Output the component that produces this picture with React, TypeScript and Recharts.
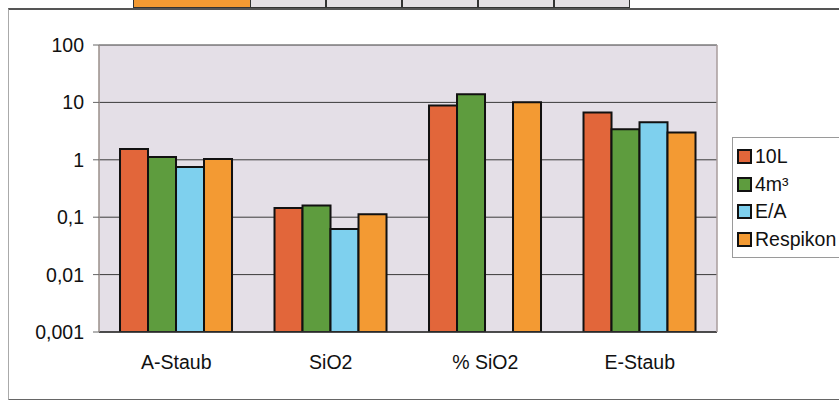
import React from "react";
import { BarChart, Bar, XAxis, YAxis, CartesianGrid } from "recharts";

// Log-scale comparison of four samplers across four measurements.
const categories = ["A-Staub", "SiO2", "% SiO2", "E-Staub"];
const series10L = [1.55, 0.145, 8.8, 6.7];
const series4m3 = [1.12, 0.16, 13.8, 3.4];
const seriesEA: (number | null)[] = [0.75, 0.062, null, 4.5];
const seriesRespikon = [1.03, 0.113, 10.1, 3.0];
const yTicks = [0.001, 0.01, 0.1, 1, 10, 100];

const SERIES = [
  { key: "l10", name: "10L", color: "#e2663a" },
  { key: "m4", name: "4m³", color: "#5e9c3e" },
  { key: "ea", name: "E/A", color: "#7ed0ee" },
  { key: "resp", name: "Respikon", color: "#f39a33" },
];

const FONT = '"Liberation Sans", Arial, sans-serif';
const FONT_SIZE = 19.5;

const data = categories.map((name, i) => ({
  name,
  l10: series10L[i],
  m4: series4m3[i],
  ea: seriesEA[i],
  resp: seriesRespikon[i],
}));

function formatTick(v: number) {
  return String(v).replace(".", ",");
}

function LegendBox() {
  return (
    <div
      style={{
        position: "absolute",
        left: 732,
        top: 137,
        width: 110,
        border: "1px solid #9a9a9a",
        borderRight: "none",
        background: "#fff",
        padding: "5px 0 4px 4px",
        fontFamily: FONT,
        fontSize: FONT_SIZE,
        color: "#111",
      }}
    >
      {SERIES.map((s) => (
        <div
          key={s.key}
          style={{ display: "flex", alignItems: "center", height: 27.5 }}
        >
          <span
            style={{
              display: "inline-block",
              width: 11,
              height: 11,
              background: s.color,
              border: "2px solid #111",
              marginRight: 3,
            }}
          />
          <span>{s.name}</span>
        </div>
      ))}
    </div>
  );
}

export default function App() {
  return (
    <div
      style={{
        position: "absolute",
        left: 0,
        top: 0,
        width: 839,
        height: 400,
        background: "#fff",
        overflow: "hidden",
      }}
    >
      {/* remnant of the table above the chart in the scan */}
      <div
        style={{
          position: "absolute",
          left: 133,
          top: -4,
          width: 117,
          height: 10,
          background: "#f39a33",
          border: "1px solid #333",
        }}
      />
      {[250, 326, 402, 478, 554, 630].map((x, i, arr) =>
        i < arr.length - 1 ? (
          <div
            key={x}
            style={{
              position: "absolute",
              left: x,
              top: -4,
              width: arr[i + 1] - x - 2,
              height: 10,
              background: "#e4e0e4",
              border: "1px solid #333",
            }}
          />
        ) : null
      )}
      {/* chart area frame */}
      <div
        style={{
          position: "absolute",
          left: 8,
          top: 8,
          width: 840,
          height: 389,
          borderLeft: "1px solid #aaa",
          borderTop: "2px solid #555",
          borderBottom: "2px solid #666",
        }}
      />
      <div style={{ position: "absolute", left: 0, top: 0 }}>
        <BarChart
          width={839}
          height={400}
          data={data}
          margin={{ top: 45, right: 121, bottom: 0, left: 39 }}
          barCategoryGap="13.6%"
          barGap={0}
        >
          <CartesianGrid
            vertical={false}
            stroke="#3a3a3a"
            strokeWidth={1}
            fill="#e4dfe7"
          />
          <XAxis
            dataKey="name"
            height={68}
            tickLine={false}
            tickSize={0}
            tickMargin={23}
            axisLine={{ stroke: "#333", strokeWidth: 1.5 }}
            tick={{ fill: "#111", fontSize: FONT_SIZE, fontFamily: FONT }}
          />
          <YAxis
            scale="log"
            domain={[0.001, 100]}
            ticks={yTicks}
            allowDataOverflow
            width={60}
            tickSize={6}
            tickMargin={9}
            tickLine={{ stroke: "#666" }}
            axisLine={{ stroke: "#9a8f8a", strokeWidth: 1.5 }}
            tickFormatter={formatTick}
            tick={{ fill: "#111", fontSize: FONT_SIZE, fontFamily: FONT }}
          />
          <YAxis
            yAxisId="frame"
            orientation="right"
            width={1}
            tick={false}
            tickLine={false}
            axisLine={{ stroke: "#a89c9c", strokeWidth: 1.5 }}
          />
          {SERIES.map((s) => (
            <Bar
              key={s.key}
              dataKey={s.key}
              name={s.name}
              fill={s.color}
              stroke="#111"
              strokeWidth={2}
              isAnimationActive={false}
            />
          ))}
        </BarChart>
      </div>
      <LegendBox />
    </div>
  );
}
